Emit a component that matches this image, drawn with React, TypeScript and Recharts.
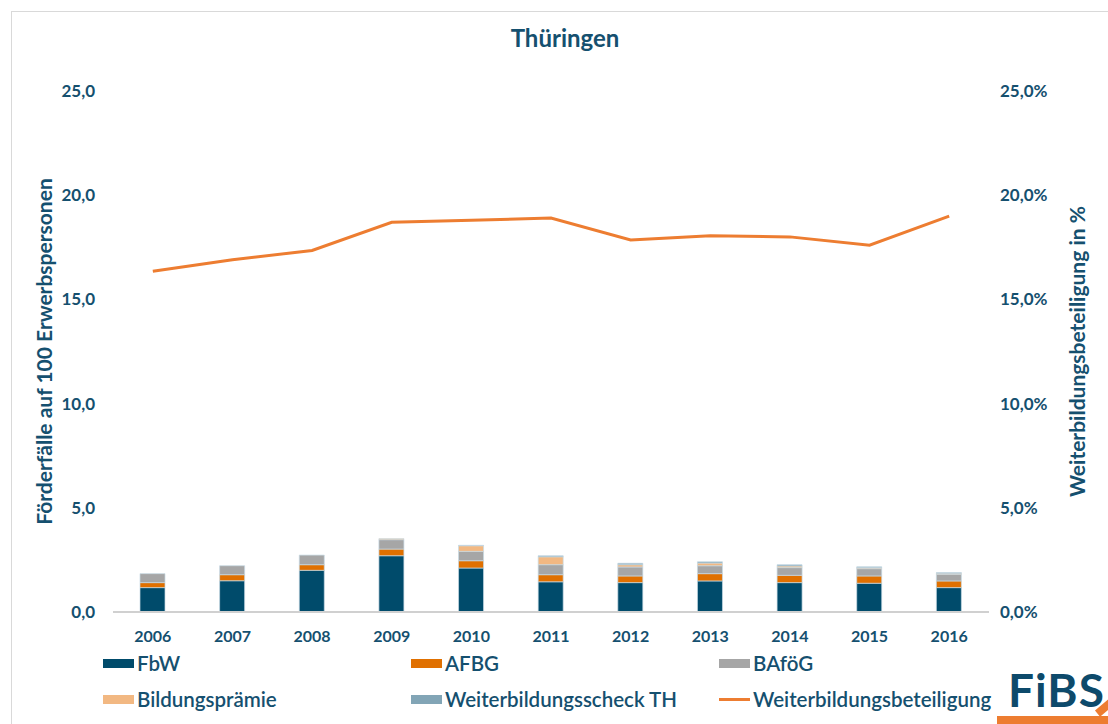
import { Bar, ComposedChart, Line, XAxis, YAxis } from "recharts";

const YEARS = ["2006", "2007", "2008", "2009", "2010", "2011", "2012", "2013", "2014", "2015", "2016"];
const FBW = [1.17, 1.5, 2.0, 2.7, 2.11, 1.45, 1.41, 1.49, 1.41, 1.38, 1.17];
const AFBG = [0.24, 0.29, 0.27, 0.32, 0.35, 0.34, 0.32, 0.35, 0.35, 0.35, 0.32];
const BAFOEG = [0.43, 0.43, 0.46, 0.45, 0.45, 0.48, 0.43, 0.38, 0.37, 0.35, 0.32];
const PRAEMIE = [0, 0, 0, 0.05, 0.27, 0.38, 0.11, 0.13, 0.08, 0.05, 0.05];
const SCHECK = [0, 0, 0, 0, 0.02, 0.05, 0.07, 0.06, 0.06, 0.04, 0.03];
const BETEILIGUNG = [16.35, 16.9, 17.35, 18.7, 18.8, 18.9, 17.85, 18.05, 18.0, 17.6, 19.0];
const Y_TICKS = [0, 5, 10, 15, 20, 25];

const TEXT = "#15506f";
const FONT = "Lato, 'Noto Sans', sans-serif";

const SERIES = [
  { key: "fbw", label: "FbW", color: "#004b6b" },
  { key: "afbg", label: "AFBG", color: "#e07000" },
  { key: "bafoeg", label: "BAföG", color: "#a6a6a6" },
  { key: "praemie", label: "Bildungsprämie", color: "#f2b882" },
  { key: "scheck", label: "Weiterbildungsscheck TH", color: "#82a5b6" },
];
const LINE_COLOR = "#ed7d31";

const data = YEARS.map((year, i) => ({
  year,
  fbw: FBW[i],
  afbg: AFBG[i],
  bafoeg: BAFOEG[i],
  praemie: PRAEMIE[i],
  scheck: SCHECK[i],
  quote: BETEILIGUNG[i],
}));

const fmt = (v: number) => v.toFixed(1).replace(".", ",");

function LegendItem({ label, color, line, x, y }: { label: string; color: string; line?: boolean; x: number; y: number }) {
  return (
    <div style={{ position: "absolute", left: x, top: y, height: 26, display: "flex", alignItems: "center", gap: 3 }}>
      <span
        style={{
          display: "inline-block",
          width: 31,
          height: line ? 3 : 9,
          backgroundColor: color,
        }}
      />
      <span style={{ fontSize: 20.5, lineHeight: "26px", color: TEXT, fontFamily: FONT, fontWeight: 600 }}>{label}</span>
    </div>
  );
}

export default function App() {
  const cols = [103, 719, 719];
  const cols2 = [103, 411, 719];
  return (
    <div style={{ position: "absolute", left: 0, top: 0, width: 1108, height: 724, background: "#fff", overflow: "hidden" }}>
      <div style={{ position: "absolute", left: 11, top: 11, width: 1100, height: 720, border: "1px solid #d9d9d9" }} />
      <div
        style={{
          position: "absolute",
          top: 23,
          left: 0,
          width: 1130,
          textAlign: "center",
          fontFamily: FONT,
          fontWeight: 700,
          fontSize: 24,
          color: TEXT,
        }}
      >
        Thüringen
      </div>
      <div style={{ position: "absolute", left: 0, top: 0 }}>
        <ComposedChart
          width={1108}
          height={724}
          data={data}
          margin={{ top: 91, right: 0, bottom: 82, left: 0 }}
          barSize={25}
          style={{ fontFamily: FONT }}
        >
          <XAxis
            dataKey="year"
            height={30}
            axisLine={{ stroke: "#d0d0d0", strokeWidth: 2 }}
            tickLine={false}
            tickMargin={13}
            tick={{ fill: TEXT, fontSize: 16, fontWeight: 700 }}
          />
          <YAxis
            yAxisId="left"
            domain={[0, 25]}
            ticks={Y_TICKS}
            width={113}
            axisLine={false}
            tickLine={false}
            tickSize={0}
            tickMargin={18}
            tickFormatter={fmt}
            tick={{ fill: TEXT, fontSize: 17, fontWeight: 700 }}
            label={{
              value: "Förderfälle auf 100 Erwerbspersonen",
              angle: -90,
              position: "insideLeft",
              offset: 45,
              style: { textAnchor: "middle", fill: TEXT, fontSize: 21, fontWeight: 700 },
            }}
          />
          <YAxis
            yAxisId="right"
            orientation="right"
            domain={[0, 25]}
            ticks={Y_TICKS}
            width={119}
            axisLine={false}
            tickLine={false}
            tickSize={0}
            tickMargin={11}
            tickFormatter={(v: number) => fmt(v) + "%"}
            tick={{ fill: TEXT, fontSize: 17, fontWeight: 700 }}
            label={{
              value: "Weiterbildungsbeteiligung in %",
              angle: -90,
              position: "insideRight",
              offset: 30,
              style: { textAnchor: "middle", fill: TEXT, fontSize: 21, fontWeight: 700 },
            }}
          />
          {SERIES.map((s) => (
            <Bar
              key={s.key}
              yAxisId="left"
              dataKey={s.key}
              stackId="a"
              fill={s.color}
              stroke="rgba(200,218,228,0.7)"
              strokeWidth={1}
              isAnimationActive={false}
            />
          ))}
          <Line
            yAxisId="right"
            dataKey="quote"
            stroke={LINE_COLOR}
            strokeWidth={3}
            dot={false}
            activeDot={false}
            isAnimationActive={false}
          />
        </ComposedChart>
      </div>
      {SERIES.slice(0, 3).map((s, i) => (
        <LegendItem key={s.key} label={s.label} color={s.color} x={cols2[i]} y={650} />
      ))}
      {SERIES.slice(3).map((s, i) => (
        <LegendItem key={s.key} label={s.label} color={s.color} x={cols2[i]} y={686} />
      ))}
      <LegendItem label="Weiterbildungsbeteiligung" color={LINE_COLOR} line x={cols[2]} y={686} />
      <div
        style={{
          position: "absolute",
          left: 1008,
          top: 662,
          fontFamily: FONT,
          fontWeight: 700,
          fontSize: 46,
          color: "#0d4a6b",
          letterSpacing: 1,
        }}
      >
        FiBS
      </div>
      <div style={{ position: "absolute", left: 997, top: 716, width: 120, height: 10, background: LINE_COLOR }} />
      <div
        style={{
          position: "absolute",
          left: 1094,
          top: 700,
          width: 30,
          height: 8,
          background: LINE_COLOR,
          transform: "rotate(-40deg)",
        }}
      />
    </div>
  );
}
